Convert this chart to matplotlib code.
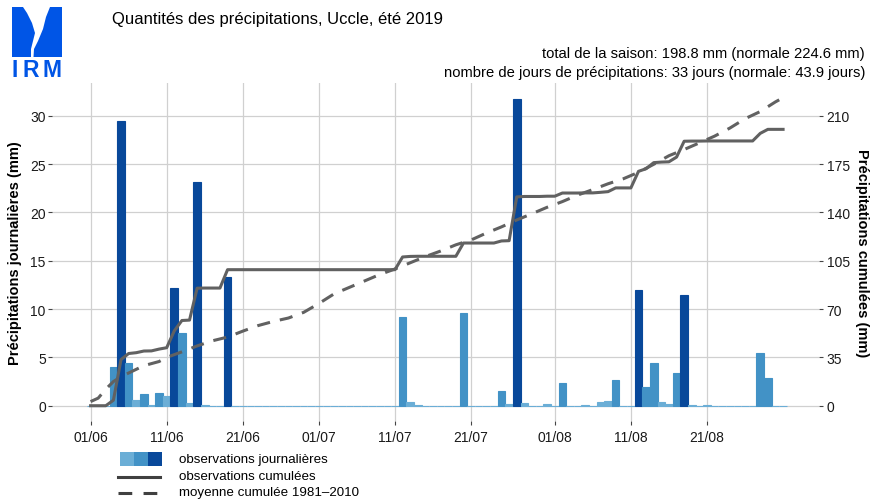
import pandas as pd
import matplotlib
matplotlib.use("Agg")
import matplotlib.pyplot as plt
from matplotlib.patches import Rectangle, Polygon
from matplotlib.lines import Line2D

plt.rcParams['font.family'] = ['Liberation Sans', 'DejaVu Sans']

# précipitations journalières (mm), du 1er juin au 31 août 2019
juin = [0, 0, 0, 4.0, 29.4, 4.4, 0.6, 1.2, 0.1, 1.3,
        1.0, 12.2, 7.5, 0.3, 23.1, 0.1, 0, 0, 13.3, 0,
        0, 0, 0, 0, 0, 0, 0, 0, 0, 0]
juillet = [0, 0, 0, 0, 0, 0, 0, 0, 0, 0,
           0, 9.2, 0.4, 0.1, 0, 0, 0, 0, 0, 9.6,
           0, 0, 0, 0, 1.5, 0.2, 31.7, 0.3, 0, 0,
           0.2]
aout = [0, 2.3, 0, 0, 0.1, 0, 0.4, 0.5, 2.7, 0,
        0, 12.0, 1.9, 4.4, 0.4, 0.2, 3.4, 11.5, 0.1, 0,
        0.1, 0, 0, 0, 0, 0, 0, 5.5, 2.9, 0,
        0]

# moyenne cumulée 1981-2010 (mm), jour de la saison (0 = 1er juin)
norm_jour = [0, 1, 2, 3, 4, 5, 7, 9, 10, 12, 14, 16, 18, 20, 22, 24, 26, 28, 30,
             32, 35, 38, 40, 42, 44, 46, 48, 50, 52, 54, 56, 58, 60, 62, 64, 66,
             68, 70, 72, 74, 76, 78, 80, 82, 84, 86, 88, 90, 91]
norm_cumul = [3.0, 5.5, 12, 17.5, 21, 23.7, 29, 32, 35, 39, 43.3, 47, 49.7, 54,
              58, 61, 63.5, 67.6, 74, 81, 88, 95, 99, 103.5, 108, 112, 116.5,
              120, 125, 129.5, 134.5, 139, 143.7, 147.8, 152.5, 156.5, 160.7,
              164.3, 169, 174.8, 181, 185.5, 190.3, 195.2, 201, 207.8, 213, 220,
              223]

tick_dates = ['2019-06-01', '2019-06-11', '2019-06-21', '2019-07-01', '2019-07-11',
              '2019-07-21', '2019-08-01', '2019-08-11', '2019-08-21']
left_ticks = [0, 5, 10, 15, 20, 25, 30]
right_ticks = [0, 35, 70, 105, 140, 175, 210]

titre = 'Quantités des précipitations, Uccle, été 2019'
ligne1 = 'total de la saison: 198.8 mm (normale 224.6 mm)'
ligne2 = 'nombre de jours de précipitations: 33 jours (normale: 43.9 jours)'

c_light, c_mid, c_dark = '#6baed6', '#4292c6', '#08489a'
c_line = '#616161'

W, H = 871, 502
def fx(x):
    return x / W
def fy(y):
    return 1 - y / H

days = pd.date_range('2019-06-01', '2019-08-31', freq='D')
pluie = pd.Series(juin + juillet + aout, index=days)
cumul = pluie.cumsum()
norm_x = days[0] + pd.to_timedelta(norm_jour, unit='D')

colors = [c_light if v <= 1 else (c_mid if v < 10 else c_dark) for v in pluie]

fig = plt.figure(figsize=(W / 100, H / 100), dpi=100)
ax = fig.add_axes([fx(52), fy(422), fx(819) - fx(52), fy(84) - fy(422)])
ax2 = ax.twinx()

ax.bar(pluie.index, pluie.values, width=1.0, color=colors, edgecolor=colors,
       linewidth=0.8, zorder=2)
ax2.plot(cumul.index, cumul.values, color=c_line, lw=2.2, zorder=3)
ax2.plot(norm_x, norm_cumul, color=c_line, lw=2.2, ls=(0, (4.3, 3.3)), zorder=3)

ymin, ymax = -1.58, 33.38
ax.set_ylim(ymin, ymax)
ax2.set_ylim(ymin * 7, ymax * 7)
ax.set_xlim(days[0] - pd.Timedelta(days=5.07), days[0] + pd.Timedelta(days=95.72))

xt = pd.to_datetime(tick_dates)
ax.set_xticks(xt)
ax.set_xticklabels([d.strftime('%d/%m') for d in xt])
ax.set_yticks(left_ticks)
ax2.set_yticks(right_ticks)

ax.set_axisbelow(True)
ax.grid(True, color='#d0d0d0', lw=0.9)
for a in (ax, ax2):
    for s in a.spines.values():
        s.set_visible(False)
ax.tick_params(axis='x', length=3, width=0.8, color='#444444', labelsize=10,
               labelcolor='#1a1a1a', pad=3.5)
ax.tick_params(axis='y', length=3, width=0.8, color='#444444', labelsize=10,
               labelcolor='#1a1a1a', pad=1.5)
ax2.tick_params(axis='y', length=3, width=0.8, color='#444444', labelsize=10,
                labelcolor='#1a1a1a', pad=2.5)

fig.text(fx(15.5), fy(253), 'Précipitations journalières (mm)', rotation=90,
         ha='center', va='center', fontsize=10.5, fontweight='bold')
fig.text(fx(862), fy(253), 'Précipitations cumulées (mm)', rotation=270,
         ha='center', va='center', fontsize=10.5, fontweight='bold')

fig.text(fx(112), fy(24), titre, fontsize=12, va='baseline', ha='left')
fig.text(fx(865), fy(58), ligne1, fontsize=10.6, va='baseline', ha='right')
fig.text(fx(865), fy(77), ligne2, fontsize=10.6, va='baseline', ha='right')

# logo IRM
logo_blue = '#0055e6'
fig.add_artist(Rectangle((fx(12), fy(58)), fx(62) - fx(12), fy(8) - fy(58),
                         transform=fig.transFigure, color=logo_blue, lw=0))
white = [(23, 8), (50, 8), (46, 18), (43, 30), (38, 42), (34, 50), (33.5, 58),
         (31, 58), (31, 50), (33, 42), (35, 34), (32, 24), (27, 14)]
fig.add_artist(Polygon([(fx(x), fy(y)) for x, y in white], closed=True,
                       transform=fig.transFigure, color='white', lw=0))
for lettre, xc in zip('IRM', (15, 30.5, 52)):
    fig.text(fx(xc), fy(77), lettre, color=logo_blue, fontsize=16.5,
             fontweight='bold', ha='center', va='baseline')

# légende
for i, c in enumerate((c_light, c_mid, c_dark)):
    fig.add_artist(Rectangle((fx(120 + 14 * i), fy(467)), 14 / W, 14 / H,
                             transform=fig.transFigure, color=c, lw=0))
fig.add_artist(Line2D([fx(118), fx(160)], [fy(478), fy(478)], color='#404040',
                      lw=2.2, transform=fig.transFigure))
fig.add_artist(Line2D([fx(118), fx(157)], [fy(494), fy(494)], color='#404040',
                      lw=2.2, ls=(0, (4.5, 3.7)), transform=fig.transFigure))
for txt, y in (('observations journalières', 460.5),
               ('observations cumulées', 477.5),
               ('moyenne cumulée 1981\u20132010', 493.5)):
    fig.text(fx(179), fy(y), txt, fontsize=9.6, va='center', ha='left')

fig.savefig('out.png', dpi=100)
